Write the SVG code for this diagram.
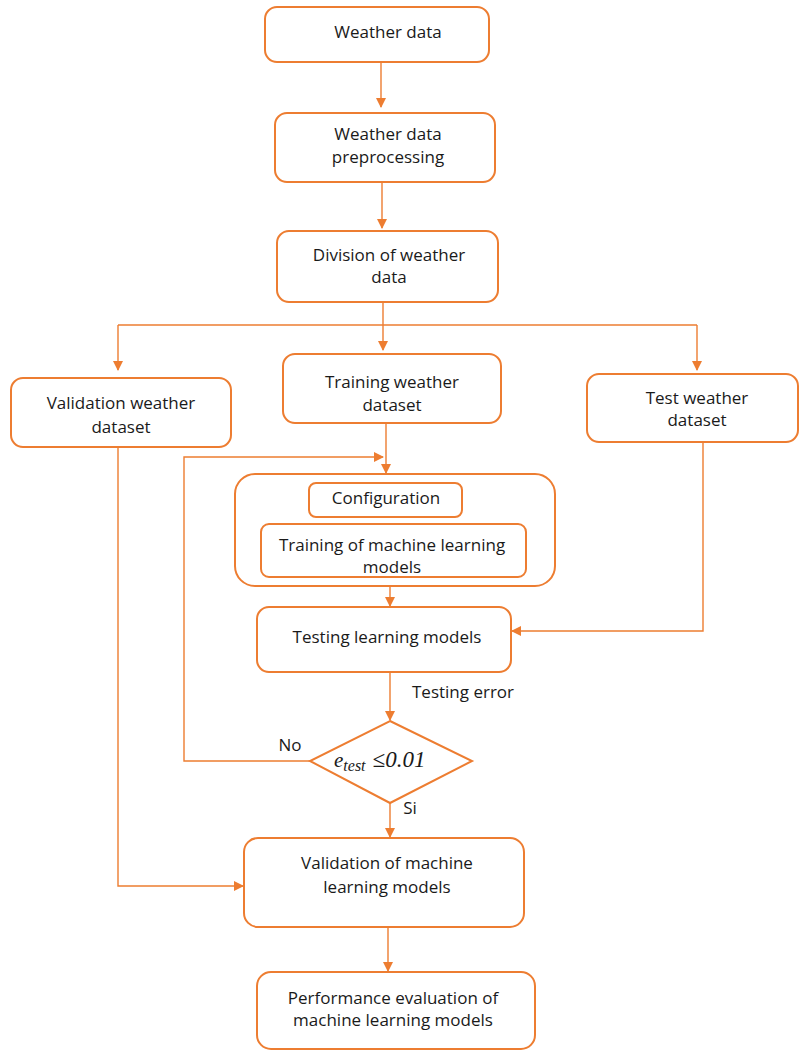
<svg xmlns="http://www.w3.org/2000/svg" width="799" height="1051" viewBox="0 0 799 1051">
<style>
.box{fill:#fff;stroke:#ED7D31;stroke-width:2}
.con{fill:none;stroke:#ED7D31;stroke-width:1.4}
.t{font-family:"Open Sans","Noto Sans",sans-serif;font-size:17px;fill:#1a1a1a;text-anchor:middle}
.m{font-family:"Liberation Serif","DejaVu Serif",serif;font-style:italic;fill:#1a1a1a}
</style>
<defs>
<marker id="ah" markerWidth="10" markerHeight="10" refX="9" refY="5" orient="auto" markerUnits="userSpaceOnUse">
<path d="M0,0 L10,5 L0,10 Z" fill="#ED7D31"/>
</marker>
</defs>
<rect width="799" height="1051" fill="#fff"/>
<g id="connectors">
<path class="con" d="M381,62 V107" marker-end="url(#ah)"/>
<path class="con" d="M382,182 V228" marker-end="url(#ah)"/>
<path class="con" d="M383,302 V350" marker-end="url(#ah)"/>
<path class="con" d="M118,325 H697"/>
<path class="con" d="M118,325 V370" marker-end="url(#ah)"/>
<path class="con" d="M697,325 V370" marker-end="url(#ah)"/>
<path class="con" d="M386,423 V473" marker-end="url(#ah)"/>
<path class="con" d="M310,761 H184 V457 H383" marker-end="url(#ah)"/>
<path class="con" d="M390,586 V606" marker-end="url(#ah)"/>
<path class="con" d="M703,442 V631 H512" marker-end="url(#ah)"/>
<path class="con" d="M390,672 V720" marker-end="url(#ah)"/>
<path class="con" d="M390,803 V837" marker-end="url(#ah)"/>
<path class="con" d="M118,447 V886 H243" marker-end="url(#ah)"/>
<path class="con" d="M388,927 V971" marker-end="url(#ah)"/>
</g>
<g id="n1"><rect class="box" x="265" y="7" width="224" height="55" rx="12"/><text class="t" x="388" y="38">Weather data</text></g>
<g id="n2"><rect class="box" x="275" y="113" width="220" height="69" rx="12"/><text class="t" x="388" y="140">Weather data</text><text class="t" x="388" y="163">preprocessing</text></g>
<g id="n3"><rect class="box" x="277" y="231" width="221" height="71" rx="12"/><text class="t" x="389" y="261">Division of weather</text><text class="t" x="389" y="283">data</text></g>
<g id="n4"><rect class="box" x="11" y="378" width="220" height="69" rx="12"/><text class="t" x="121" y="409">Validation weather</text><text class="t" x="121" y="433">dataset</text></g>
<g id="n5"><rect class="box" x="283" y="354" width="218" height="69" rx="12"/><text class="t" x="392" y="388">Training weather</text><text class="t" x="392" y="411">dataset</text></g>
<g id="n6"><rect class="box" x="587" y="374" width="211" height="68" rx="12"/><text class="t" x="697" y="404">Test weather</text><text class="t" x="697" y="426">dataset</text></g>
<g id="n7"><rect class="box" x="235" y="474" width="320" height="112" rx="20"/></g>
<g id="n8"><rect class="box" x="309" y="483" width="153" height="34" rx="7"/><text class="t" x="386" y="504">Configuration</text></g>
<g id="n9"><rect class="box" x="261" y="524" width="265" height="53" rx="8"/><text class="t" x="392" y="551">Training of machine learning</text><text class="t" x="392" y="573">models</text></g>
<g id="n10"><rect class="box" x="257" y="607" width="254" height="65" rx="12"/><text class="t" x="387" y="643">Testing learning models</text></g>
<g id="n11"><polygon class="box" points="390,721 472,761 390,803 310,761"/><text class="m" x="334" y="767" font-size="21">e<tspan font-size="16" dy="4">test</tspan><tspan dy="-4" dx="7" font-size="23">≤0.01</tspan></text></g>
<text class="t" x="463" y="698">Testing error</text>
<text class="t" x="290" y="751">No</text>
<text class="t" x="410" y="814">Si</text>
<g id="n12"><rect class="box" x="244" y="838" width="280" height="89" rx="14"/><text class="t" x="387" y="869">Validation of machine</text><text class="t" x="387" y="893">learning models</text></g>
<g id="n13"><rect class="box" x="257" y="972" width="278" height="77" rx="14"/><text class="t" x="393" y="1004">Performance evaluation of</text><text class="t" x="393" y="1026">machine learning models</text></g>
</svg>
